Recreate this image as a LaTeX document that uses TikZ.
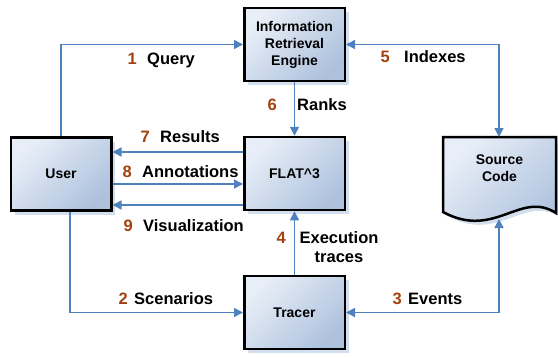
\documentclass[tikz,border=0pt]{standalone}
\usepackage{fontspec}
\setmainfont{Liberation Sans}
\usetikzlibrary{arrows.meta,shadows}
\definecolor{lineblue}{HTML}{4F81BD}
\definecolor{boxlight}{HTML}{E8EEF7}
\definecolor{boxdark}{HTML}{AEC2DE}
\definecolor{shadowblue}{HTML}{D3DEEE}
\definecolor{numcol}{HTML}{A3410E}
\begin{document}
\begin{tikzpicture}[x=1pt,y=-1pt,
  box/.style={draw=black, line width=2.5pt, minimum width=100.5pt, minimum height=73pt,
    top color=boxlight, bottom color=boxdark, shading angle=45, align=center,
    font=\fontsize{14}{17}\selectfont\bfseries,
    drop shadow={shadow xshift=4pt, shadow yshift=-4pt, fill=shadowblue, opacity=1}},
  conn/.style={draw=lineblue, line width=1.5pt},
  >={Triangle[length=9pt,width=9pt]},
  lbl/.style={font=\fontsize{16.5}{19}\selectfont\bfseries, inner sep=0pt, anchor=base west},
  num/.style={font=\fontsize{16.5}{19}\selectfont\bfseries, text=numcol, inner sep=0pt, anchor=base east}]
\useasboundingbox (0,0) rectangle (558,357);

% boxes
\node[box] (ir) at (294.5,44.5) {Information\\Retrieval\\Engine};
\node[box] (flat) at (294.5,173.5) {FLAT\textasciicircum 3};
\node[box] (user) at (61,174) {User};
\node[box] (tracer) at (294.5,312.5) {Tracer};

% source code document shape
\fill[shadowblue, shift={(4,4)}] (443,137) -- (556,137) -- (556,213)
  .. controls (520,190) and (495,240) .. (443,212) -- cycle;
\draw[line width=2.5pt, top color=boxlight, bottom color=boxdark, shading angle=45]
  (443,137) -- (556,137) -- (556,213)
  .. controls (520,190) and (495,240) .. (443,212) -- cycle;
\node[align=center, font=\fontsize{14}{17}\selectfont\bfseries] (src) at (499.5,168) {Source\\Code};
\coordinate (srctop) at (499,137);
\coordinate (srcbot) at (499,219);

% helper coordinates on FLAT's left side
\coordinate (r1) at ([yshift=21.5pt]flat.west);
\coordinate (r2) at ([yshift=-10.5pt]flat.west);
\coordinate (r3) at ([yshift=-31.5pt]flat.west);

% connectors
\draw[conn,->] (user.north) |- (ir.west);
\draw[conn,<->] (ir.east) -| (srctop);
\draw[conn,->] (ir.south) -- (flat.north);
\draw[conn,->] (r1) -- (r1 -| user.east);
\draw[conn,->] (r2 -| user.east) -- (r2);
\draw[conn,->] (r3) -- (r3 -| user.east);
\draw[conn,->] (tracer.north) -- (flat.south);
\draw[conn,->] ([xshift=9pt]user.south) |- (tracer.west);
\draw[conn,<->] (srcbot) |- (tracer.east);

% labels
\node[num] (n1) at (137,64) {1}; \node[lbl] (l1) at (147,64) {Query};
\node[num] (n5) at (390,62) {5}; \node[lbl] (l5) at (404,62) {Indexes};
\node[num] (n6) at (277,110) {6}; \node[lbl] (l6) at (297,110) {Ranks};
\node[num] (n7) at (150,142) {7}; \node[lbl] (l7) at (160,142) {Results};
\node[num] (n8) at (132,177) {8}; \node[lbl] (l8) at (142,177) {Annotations};
\node[num] (n9) at (133,231) {9}; \node[lbl] (l9) at (143,231) {Visualization};
\node[num] (n4) at (286,243) {4};
\node[font=\fontsize{16.5}{19}\selectfont\bfseries, inner sep=0pt, align=center, anchor=north] (l4) at (339,231.2) {Execution\\traces};
\node[num] (n2) at (128,304) {2}; \node[lbl] (l2) at (134,304) {Scenarios};
\node[num] (n3) at (402,304) {3}; \node[lbl] (l3) at (408,304) {Events};
\end{tikzpicture}
\end{document}
